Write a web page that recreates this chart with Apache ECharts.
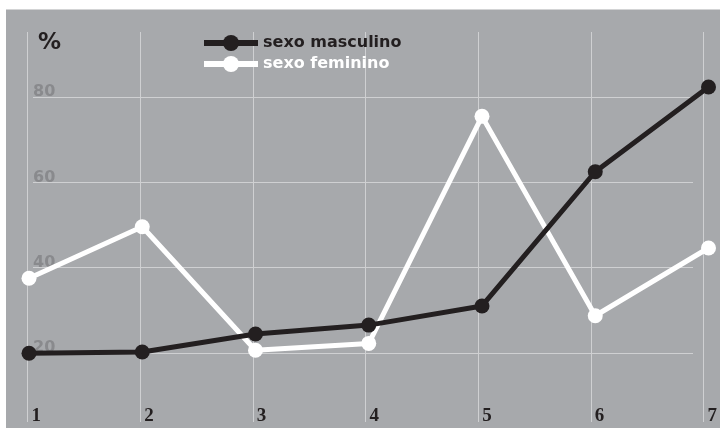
<!DOCTYPE html>
<html>
<head>
<meta charset="utf-8">
<script src="https://cdn.jsdelivr.net/npm/echarts@6/dist/echarts.min.js"></script>
<style>
html,body{margin:0;padding:0;background:#ffffff;}
#c{width:720px;height:438px;}
</style>
</head>
<body>
<div id="c"></div>
<script>
var categories = ['1', '2', '3', '4', '5', '6', '7'];
var masculino = [19.9, 20.2, 24.4, 26.5, 31.0, 62.5, 82.4];
var feminino = [37.5, 49.6, 20.6, 22.2, 75.5, 28.7, 44.6];
var seriesNames = ['sexo masculino', 'sexo feminino'];
var yTicks = [0, 20, 40, 60, 80, 100];

var BLACK = '#231f20';
var chart = echarts.init(document.getElementById('c'), null, {renderer: 'canvas'});
chart.setOption({
  backgroundColor: '#ffffff',
  animation: false,
  graphic: [{
    type: 'rect', z: -10, silent: true,
    shape: {x: 6, y: 9.5, width: 720, height: 418.5},
    style: {fill: '#a7a9ac'}
  }],
  title: {
    text: '%', left: 33, top: 27,
    textStyle: {color: BLACK, fontFamily: 'DejaVu Sans', fontWeight: 'bold', fontSize: 23}
  },
  legend: {
    left: 196, top: 30, orient: 'vertical', itemGap: 5,
    itemWidth: 54, itemHeight: 20,
    lineStyle: {width: 6},
    textStyle: {fontFamily: 'DejaVu Sans', fontWeight: 'bold', fontSize: 16},
    data: [
      {name: seriesNames[0], textStyle: {color: BLACK}},
      {name: seriesNames[1], textStyle: {color: '#ffffff'}}
    ]
  },
  grid: [
    {left: 29, right: 11.5, top: 12, height: 427.5},
    {left: 27.5, right: 11, top: 32, bottom: 16},
    {left: 33, right: 27, top: 12, height: 427.5}
  ],
  xAxis: [
    {type: 'category', gridIndex: 0, data: categories, boundaryGap: false, show: false},
    {type: 'category', gridIndex: 1, data: categories, boundaryGap: false,
      axisLine: {show: false}, axisTick: {show: false},
      splitLine: {show: true, lineStyle: {color: '#cfd0d2', width: 1}},
      axisLabel: {inside: true, margin: -4, align: 'left', padding: [0, 0, 0, 4],
        color: BLACK, fontFamily: 'Liberation Serif', fontWeight: 'bold', fontSize: 19}},
    {type: 'value', gridIndex: 2, min: 0, max: 1, show: false}
  ],
  yAxis: [
    {type: 'value', gridIndex: 0, min: yTicks[0], max: yTicks[yTicks.length - 1], interval: 20, show: false},
    {type: 'value', gridIndex: 1, show: false},
    {type: 'value', gridIndex: 2, min: yTicks[0], max: yTicks[yTicks.length - 1], interval: 20,
      axisLine: {show: false}, axisTick: {show: false},
      splitLine: {show: true, showMinLine: false, showMaxLine: false, lineStyle: {color: '#cfd0d2', width: 1}},
      axisLabel: {inside: true, showMinLabel: false, showMaxLabel: false, margin: 0,
        verticalAlign: 'bottom', align: 'left', padding: [0, 0, -3, 0],
        color: '#898a8d', fontFamily: 'DejaVu Sans', fontWeight: 'bold', fontSize: 16}}
  ],
  series: [
    {name: seriesNames[1], type: 'line', xAxisIndex: 0, yAxisIndex: 0, data: feminino,
      symbol: 'circle', symbolSize: 15, z: 3,
      lineStyle: {color: '#ffffff', width: 5}, itemStyle: {color: '#ffffff'}},
    {name: seriesNames[0], type: 'line', xAxisIndex: 0, yAxisIndex: 0, data: masculino,
      symbol: 'circle', symbolSize: 15, z: 4,
      lineStyle: {color: BLACK, width: 5}, itemStyle: {color: BLACK}}
  ]
});
</script>
</body>
</html>
